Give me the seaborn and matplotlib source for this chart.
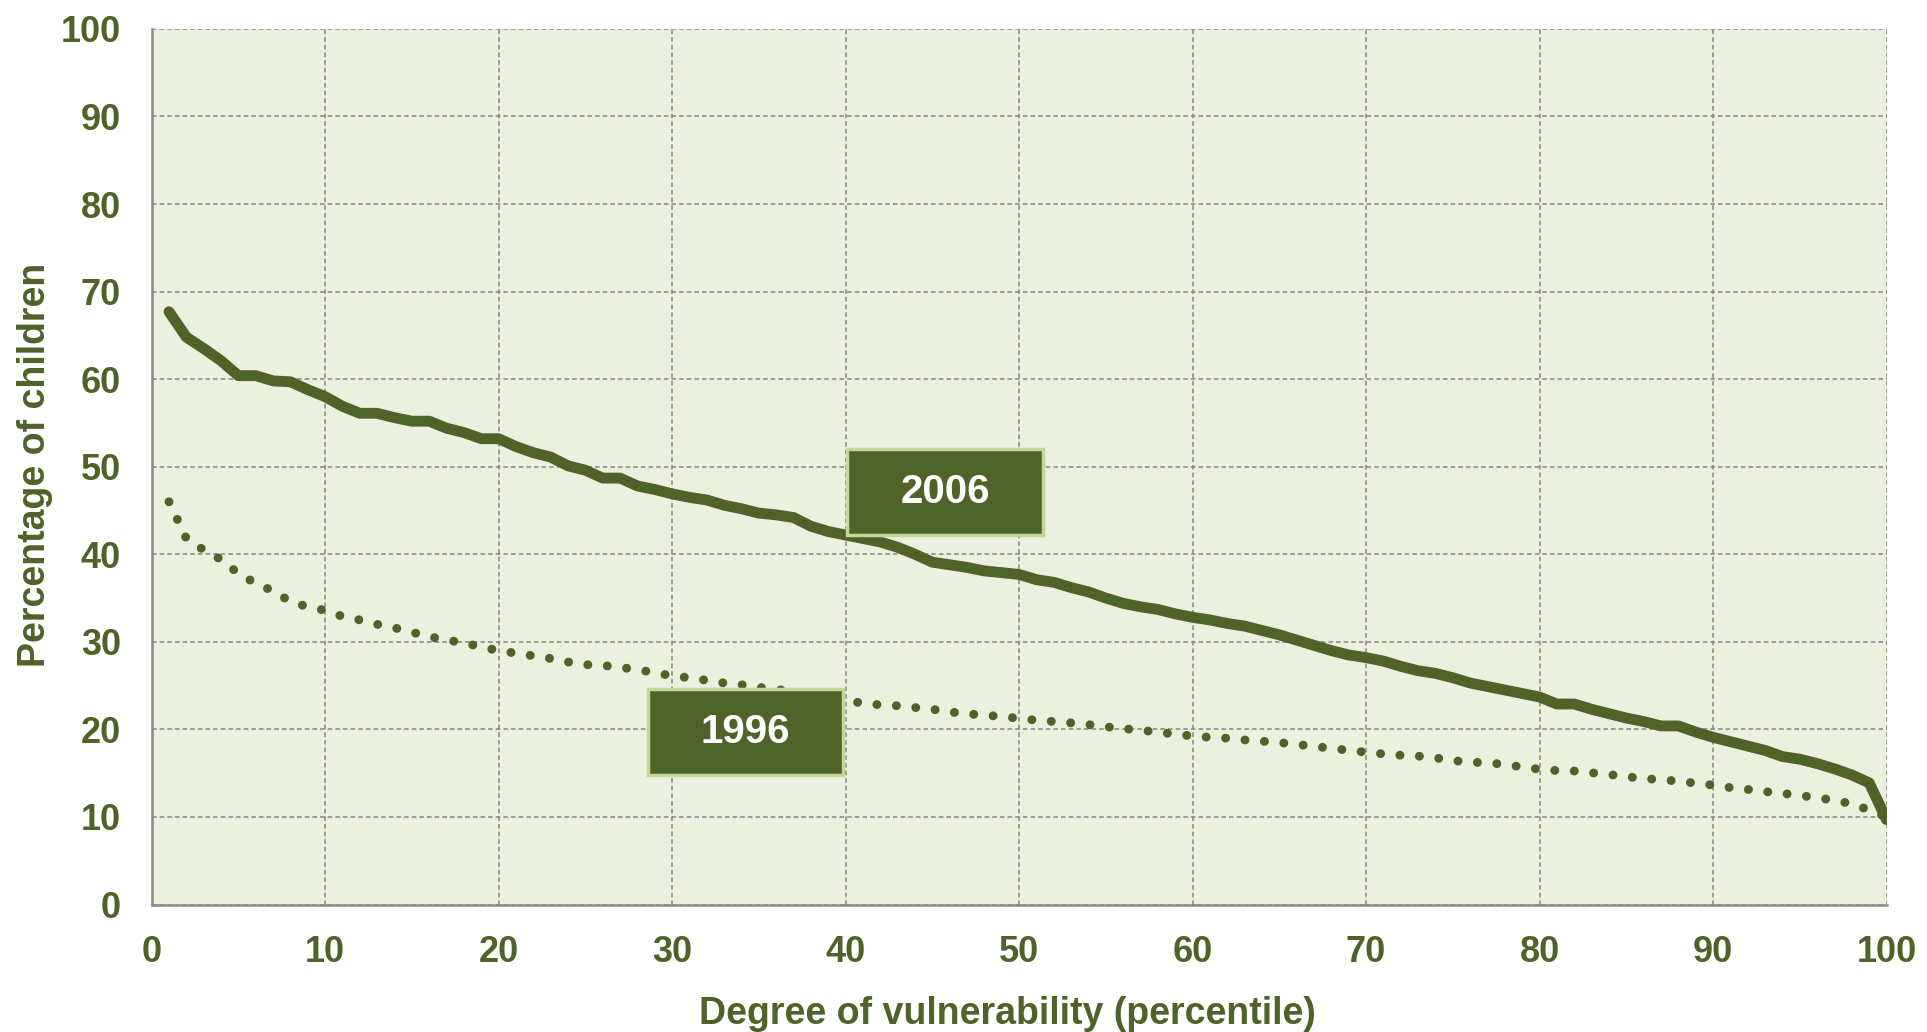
import numpy as np
import pandas as pd
import matplotlib
matplotlib.use("Agg")
import matplotlib.pyplot as plt
from matplotlib.patches import Rectangle
import seaborn as sns

# ---- data ----
percentile = list(range(1, 101))
pct_2006 = [67.7, 64.8, 63.5, 62.1, 60.4, 60.4, 59.8, 59.7, 58.8, 58.0,
            56.9, 56.1, 56.1, 55.6, 55.2, 55.2, 54.4, 53.9, 53.2, 53.2,
            52.3, 51.6, 51.1, 50.1, 49.6, 48.7, 48.7, 47.8, 47.4, 46.9,
            46.5, 46.2, 45.6, 45.2, 44.7, 44.5, 44.2, 43.2, 42.6, 42.2,
            41.8, 41.4, 40.8, 40.0, 39.1, 38.8, 38.5, 38.1, 37.9, 37.7,
            37.1, 36.8, 36.2, 35.7, 35.0, 34.4, 34.0, 33.7, 33.2, 32.8,
            32.5, 32.1, 31.8, 31.3, 30.8, 30.2, 29.6, 29.0, 28.5, 28.2,
            27.8, 27.2, 26.7, 26.4, 25.9, 25.3, 24.9, 24.5, 24.1, 23.7,
            22.9, 22.9, 22.3, 21.8, 21.3, 20.9, 20.4, 20.4, 19.7, 19.1,
            18.6, 18.1, 17.6, 16.9, 16.6, 16.1, 15.5, 14.8, 13.9, 9.7]
pct_1996 = [46.0, 41.8, 40.5, 39.4, 37.8, 36.7, 35.8, 34.6, 34.0, 33.6,
            32.9, 32.5, 32.0, 31.6, 31.1, 30.6, 30.2, 29.9, 29.4, 29.0,
            28.7, 28.4, 28.1, 27.7, 27.4, 27.3, 27.1, 26.8, 26.5, 26.1,
            25.9, 25.6, 25.3, 25.1, 24.8, 24.6, 24.3, 24.0, 23.6, 23.3,
            23.0, 22.8, 22.7, 22.5, 22.3, 22.0, 21.8, 21.6, 21.5, 21.25,
            21.05, 20.9, 20.75, 20.55, 20.3, 20.1, 19.9, 19.7, 19.45, 19.25,
            19.1, 19.0, 18.8, 18.65, 18.5, 18.3, 18.05, 17.85, 17.6, 17.4,
            17.2, 17.05, 16.95, 16.75, 16.45, 16.25, 16.2, 16.0, 15.7, 15.45,
            15.3, 15.25, 15.05, 14.85, 14.6, 14.4, 14.25, 14.1, 13.85, 13.65,
            13.35, 13.15, 12.9, 12.7, 12.45, 12.2, 11.9, 11.5, 10.8, 10.0]
x_ticks = list(range(0, 101, 10))
y_ticks = list(range(0, 101, 10))
label_texts = ["2006", "1996"]
label_boxes = [(40.06, 42.2, 11.34, 9.8), (28.6, 14.8, 11.24, 9.8)]  # x, y, w, h in data units

GREEN = "#4F6228"
BG = "#EBF1DE"
EDGE = "#C3D69B"

sns.set_theme(style="white")
plt.rcParams['font.family'] = ['Liberation Sans', 'DejaVu Sans']

df = pd.DataFrame({"percentile": percentile, "2006": pct_2006, "1996": pct_1996})

fig = plt.figure(figsize=(19.27, 10.32), dpi=100)
ax = fig.add_axes([0.0787, 0.1235, 0.9003, 0.8485])
ax.set_facecolor(BG)

sns.lineplot(data=df, x="percentile", y="1996", ax=ax, color=GREEN, lw=6.4,
             dash_capstyle="round", zorder=3)
ax.lines[-1].set_dashes((0.01, 2.18))
sns.lineplot(data=df, x="percentile", y="2006", ax=ax, color=GREEN, lw=7.8,
             solid_capstyle="round", solid_joinstyle="round", zorder=4)

for (bx, by, bw, bh), txt in zip(label_boxes, label_texts):
    ax.add_patch(Rectangle((bx, by), bw, bh, facecolor=GREEN, edgecolor=EDGE,
                           lw=2.5, zorder=6))
    ax.text(bx + bw / 2, by + bh / 2, txt, ha="center", va="center",
            color="white", fontsize=29, fontweight="bold", zorder=7)

ax.set_xlim(0, 100)
ax.set_ylim(0, 100)
ax.set_xticks(x_ticks)
ax.set_yticks(y_ticks)
ax.grid(True, color="#858585", lw=1.1, linestyle=(0, (3, 2)))
ax.set_axisbelow(True)

for s in ["top", "right"]:
    ax.spines[s].set_visible(False)
for s in ["left", "bottom"]:
    ax.spines[s].set_color("#8A8A8A")
    ax.spines[s].set_linewidth(1.8)

ax.tick_params(axis="both", which="both", direction="out", length=9, width=1.5,
               color="#8A8A8A", labelsize=26, labelcolor=GREEN)
ax.tick_params(axis="x", pad=13)
ax.tick_params(axis="y", pad=13)
for lab in ax.get_xticklabels() + ax.get_yticklabels():
    lab.set_fontweight("bold")

ax.set_xlabel("Degree of vulnerability (percentile)", fontsize=27,
              fontweight="bold", color=GREEN)
ax.set_ylabel("Percentage of children", fontsize=27,
              fontweight="bold", color=GREEN)
ax.xaxis.set_label_coords(0.493, -0.105)
ax.yaxis.set_label_coords(-0.057, 0.502)

fig.savefig("out.png", dpi=100, facecolor="white")
